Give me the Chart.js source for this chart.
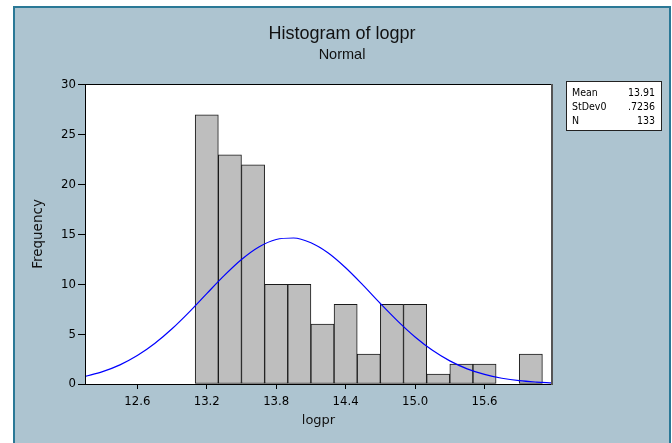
<!DOCTYPE html>
<html>
<head>
<meta charset="utf-8">
<script src="https://cdn.jsdelivr.net/npm/chart.js@4"></script>
<style>
  html, body { margin: 0; padding: 0; background: #fff; }
  #wrap { width: 672px; height: 443px; }
</style>
</head>
<body>
<div id="wrap"><canvas id="hist" width="672" height="443"></canvas></div>
<script>
// bin midpoints (width 0.2) and counts
var binMids = [13.2, 13.4, 13.6, 13.8, 14.0, 14.2, 14.4, 14.6, 14.8, 15.0, 15.2, 15.4, 15.6, 15.8, 16.0];
var binCounts = [27, 23, 22, 10, 10, 6, 8, 3, 8, 8, 1, 2, 2, 0, 3];

// fitted normal curve
var curveX = [12.15, 12.3, 12.45, 12.6, 12.75, 12.9, 13.05, 13.2, 13.35, 13.5, 13.65, 13.8, 13.95, 14.1,
  14.25, 14.4, 14.55, 14.7, 14.85, 15.0, 15.15, 15.3, 15.45, 15.6, 15.75, 15.9, 16.05, 16.18];
var curveY = [0.76, 1.24, 1.92, 2.85, 4.06, 5.54, 7.24, 9.07, 10.87, 12.49, 13.75, 14.5, 14.65, 14.17,
  13.14, 11.66, 9.92, 8.08, 6.31, 4.72, 3.38, 2.32, 1.52, 0.96, 0.58, 0.33, 0.19, 0.11];

var xTicks = [12.6, 13.2, 13.8, 14.4, 15.0, 15.6];
var yTicks = [0, 5, 10, 15, 20, 25, 30];

var statLabels = ["Mean", "StDev0", "N"];
var statValues = ["13.91", ".7236", "133"];

(function () {
  var face = "'DejaVu Sans Condensed', 'DejaVu Sans', Verdana, sans-serif";
  var wide = "'DejaVu Sans', Verdana, sans-serif";
  var tickFont = { family: face, size: 13 };

  // blue-grey panel, white plot area, frame, title and stats box
  var frame = {
    id: "frame",
    beforeDraw: function (chart) {
      var ctx = chart.ctx;
      var a = chart.chartArea;
      ctx.save();
      ctx.fillStyle = "#adc4d0";
      ctx.fillRect(13, 6, 658, 437);
      ctx.strokeStyle = "#2a7896";
      ctx.lineWidth = 2;
      ctx.strokeRect(14, 7, 656, 440);
      ctx.fillStyle = "#ffffff";
      ctx.fillRect(a.left, a.top, a.right - a.left, a.bottom - a.top);
      ctx.restore();
    },
    afterDraw: function (chart) {
      var ctx = chart.ctx;
      var a = chart.chartArea;
      ctx.save();
      ctx.strokeStyle = "#000";
      ctx.lineWidth = 1;
      ctx.strokeRect(a.left + 0.5, a.top + 0.5, a.right - a.left - 1, a.bottom - a.top);
      ctx.strokeStyle = "#555";
      ctx.lineWidth = 2;
      ctx.beginPath();
      ctx.moveTo(a.right, a.top);
      ctx.lineTo(a.right, a.bottom + 1);
      ctx.stroke();

      ctx.fillStyle = "#111";
      ctx.textAlign = "center";
      ctx.textBaseline = "middle";
      ctx.font = "18px 'Liberation Sans', Arial, sans-serif";
      ctx.fillText("Histogram of logpr", 342, 34);
      ctx.font = "14.5px 'Liberation Sans', Arial, sans-serif";
      ctx.fillText("Normal", 342, 55);

      // stats box
      ctx.fillStyle = "#fff";
      ctx.fillRect(566, 81, 95, 49);
      ctx.strokeStyle = "#222";
      ctx.lineWidth = 1;
      ctx.strokeRect(566.5, 81.5, 95, 49);
      ctx.fillStyle = "#000";
      ctx.font = "10.5px " + face;
      statLabels.forEach(function (lab, i) {
        var y = 93 + i * 14;
        ctx.textAlign = "left";
        ctx.fillText(lab, 572, y);
        ctx.textAlign = "right";
        ctx.fillText(statValues[i], 655, y);
      });
      ctx.restore();
    },
  };

  new Chart(document.getElementById("hist"), {
    data: {
      datasets: [
        {
          type: "line",
          order: 0,
          data: curveX.map(function (x, i) { return { x: x, y: curveY[i] }; }),
          borderColor: "#0000ff",
          borderWidth: 1.2,
          pointRadius: 0,
          cubicInterpolationMode: "monotone",
          fill: false,
        },
        {
          type: "bar",
          order: 1,
          data: binMids.map(function (x, i) { return { x: x, y: binCounts[i] }; }),
          backgroundColor: "#bebebe",
          borderColor: "#1a1a1a",
          borderWidth: 1,
          borderSkipped: false,
          barPercentage: 1,
          categoryPercentage: 1,
        },
      ],
    },
    options: {
      responsive: false,
      animation: false,
      events: [],
      layout: { padding: { left: 0, top: 84, right: 120, bottom: 0 } },
      plugins: { legend: { display: false }, tooltip: { enabled: false } },
      scales: {
        x: {
          type: "linear",
          min: 12.148,
          max: 16.183,
          offset: false,
          afterBuildTicks: function (s) {
            s.ticks = xTicks.map(function (v) { return { value: v }; });
          },
          afterFit: function (s) { s.height = 59; },
          ticks: {
            font: tickFont,
            color: "#000",
            padding: 5,
            maxRotation: 0,
            autoSkip: false,
            callback: function (v) { return v.toFixed(1); },
          },
          grid: { offset: false, drawOnChartArea: false, tickLength: 5, color: "#000" },
          border: { display: false },
          title: {
            display: true,
            text: "logpr",
            font: { family: wide, size: 13 },
            color: "#111",
            padding: { top: 0, bottom: 15 },
          },
        },
        y: {
          min: 0,
          max: 30.1,
          afterBuildTicks: function (s) {
            s.ticks = yTicks.map(function (v) { return { value: v }; });
          },
          afterFit: function (s) { s.width = 85; },
          ticks: { font: tickFont, color: "#000", padding: 2 },
          grid: { drawOnChartArea: false, tickLength: 7, color: "#000" },
          border: { display: false },
          title: {
            display: true,
            text: "Frequency",
            font: { family: wide, size: 13.5 },
            color: "#111",
            padding: { top: 30, bottom: 0 },
          },
        },
      },
    },
    plugins: [frame],
  });
})();
</script>
</body>
</html>
